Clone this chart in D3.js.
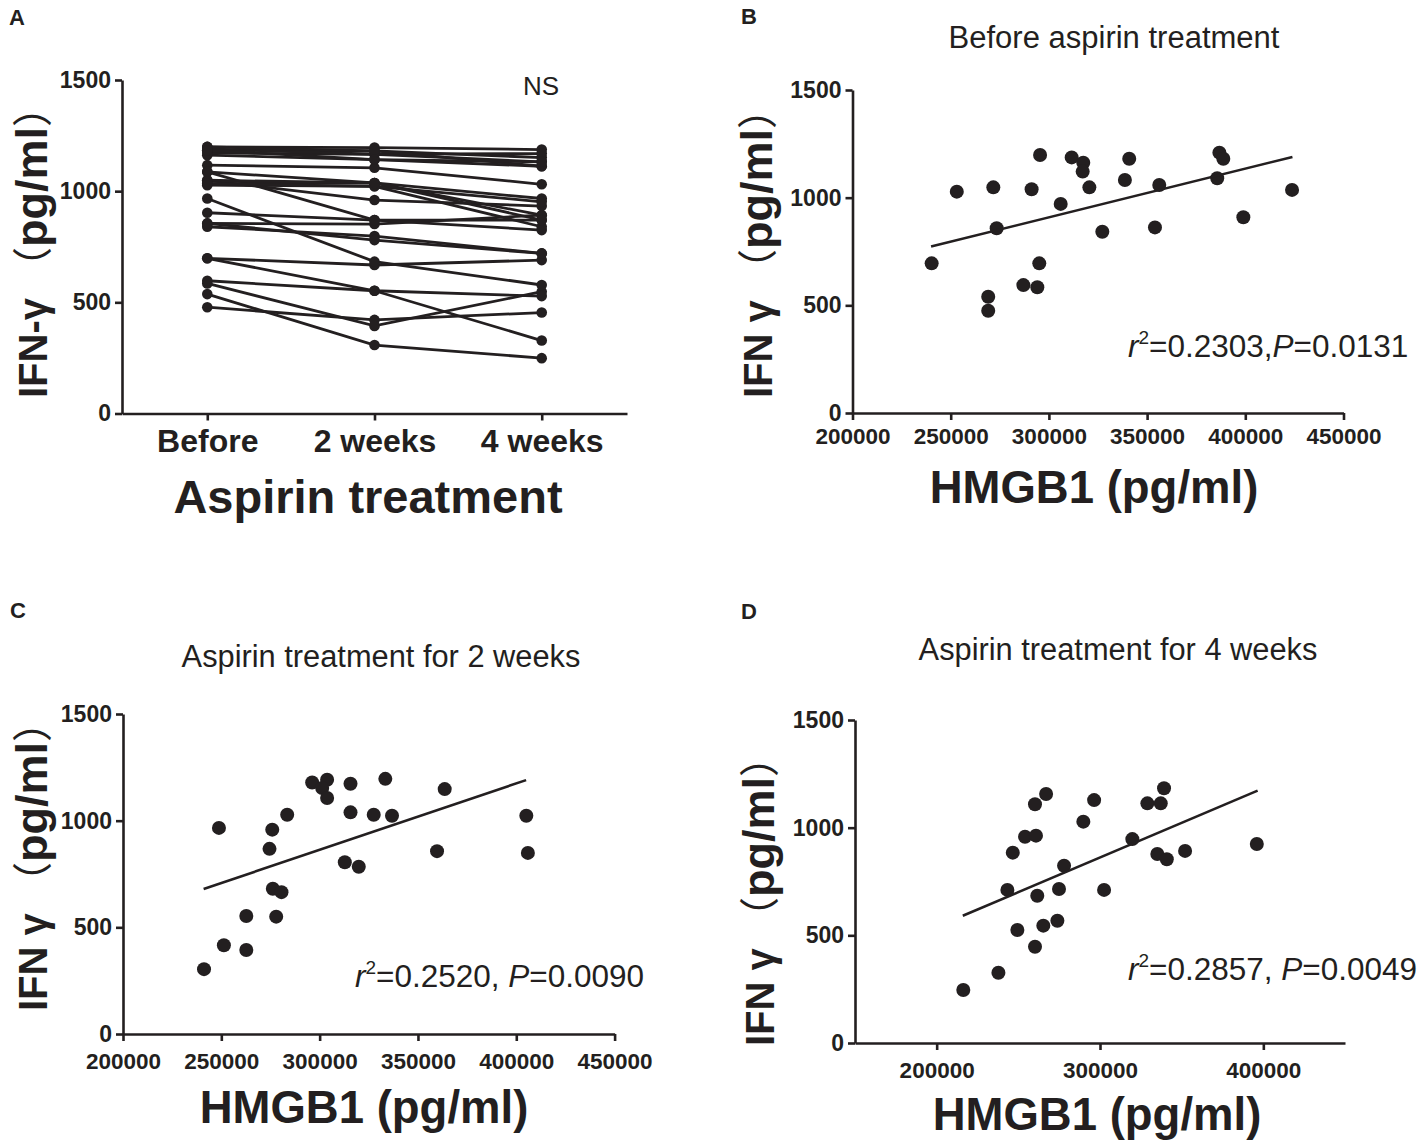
<!DOCTYPE html>
<html lang="en">
<head>
<meta charset="UTF-8">
<title>IFN-γ and HMGB1 during aspirin treatment</title>
<script src="https://d3js.org/d3.v7.min.js"></script>
<style>
  body { margin: 0; background: #fff; }
  svg { display: block; }
  .tick text { font-family: "Liberation Sans", Arial, sans-serif; font-weight: bold; fill: #231f20; }
  .domain, .tick line { stroke: #231f20; stroke-width: 2.6px; }
</style>
</head>
<body>
<div id="chart"></div>
<script>
// ---- data ----
var timepoints = ["Before", "2 weeks", "4 weeks"];
var ifnBefore = [478, 585, 537, 597, 698, 698, 967, 903, 855, 840, 855, 1087, 1049,
                 1034, 1027, 1049, 1034, 1117, 1162, 1172, 1184, 1199, 1190, 1199, 1087, 1184];
var ifnWeek2  = [421, 394, 308, 552, 552, 668, 683, 870, 852, 798, 780, 870, 960,
                 1037, 1022, 1037, 1022, 1105, 1142, 1166, 1181, 1196, 1166, 1181, 1037, 1142];
var ifnWeek4  = [454, 548, 249, 528, 328, 690, 578, 870, 892, 720, 720, 825, 933,
                 892, 840, 967, 952, 1031, 1112, 1132, 1151, 1187, 1169, 1112, 870, 1132];

var hmgbBefore = [253100, 271700, 295500, 291200, 311600, 317500, 317200, 320600, 306000,
                  273400, 240300, 269100, 269100, 287000, 294100, 295100, 327200, 338700,
                  340900, 354000, 356200, 386800, 388800, 385700, 399000, 423800];
var ifnB = [1028, 1048, 1198, 1039, 1187, 1162, 1121, 1048, 971, 858, 695, 540, 475,
            594, 584, 695, 842, 1082, 1181, 862, 1059, 1209, 1181, 1090, 909, 1036];

var hmgbWeek2 = [248800, 241200, 251300, 262700, 262700, 277900, 276200, 280600, 274500,
                 275900, 283500, 296200, 303800, 301300, 303800, 315700, 315700, 327500,
                 336800, 333400, 312800, 319900, 359700, 363600, 405100, 405900];
var ifnC = [966, 304, 416, 553, 394, 550, 681, 665, 868, 958, 1028, 1179, 1192, 1153,
            1106, 1173, 1039, 1028, 1023, 1196, 805, 784, 857, 1148, 1023, 849];

var hmgbWeek4 = [216300, 237800, 260200, 249400, 265300, 273900, 261600, 243300, 274900,
                 302500, 278000, 246600, 254100, 260800, 260200, 267000, 289800, 296400,
                 319800, 329000, 337200, 339200, 335100, 340900, 352100, 396000];
var ifnD = [246, 326, 447, 525, 545, 568, 684, 711, 715, 711, 823, 884, 958, 963, 1109,
            1156, 1028, 1128, 947, 1113, 1113, 1183, 878, 853, 892, 924];

// regression line end points
var fitBX = [240000, 424000], fitBY = [773, 1189];
var fitCX = [241000, 405000], fitCY = [680, 1190];
var fitDX = [216000, 396500], fitDY = [591, 1172];

var yTicks = [0, 500, 1000, 1500];
var xTicksWide = [200000, 250000, 300000, 350000, 400000, 450000];
var xTicksD = [200000, 300000, 400000];

var W = 1417, H = 1140;
var sans = '"Liberation Sans", Arial, sans-serif';
var cjk = '"Noto Sans CJK SC", sans-serif';
var ink = "#231f20";

var svg = d3.select("#chart").append("svg")
    .attr("width", W).attr("height", H);

function yAxis(g, y, labelPad) {
    g.call(d3.axisLeft(y).tickValues(yTicks).tickSize(7).tickPadding(labelPad)
        .tickSizeOuter(0).tickFormat(d3.format("d")));
    g.selectAll(".tick text").style("font-size", "23px");
}

function rotatedLabel(x, yBottom, main) {
    var t = svg.append("text")
        .attr("transform", "translate(" + x + "," + yBottom + ") rotate(-90)")
        .style("font-family", sans).style("font-size", "40px").style("font-weight", "bold")
        .style("fill", ink);
    t.append("tspan").text(main);
    t.append("tspan").style("font-family", cjk).style("font-weight", "normal").text("（");
    t.append("tspan").style("font-size", "45px").text("pg/ml");
    t.append("tspan").style("font-family", cjk).style("font-weight", "normal").text("）");
}

function panelLetter(x, y, s) {
    svg.append("text").attr("x", x).attr("y", y)
        .style("font-family", sans).style("font-size", "22px").style("font-weight", "bold")
        .style("fill", ink).text(s);
}

function plainText(x, y, size, s, anchor) {
    return svg.append("text").attr("x", x).attr("y", y)
        .attr("text-anchor", anchor || "middle")
        .style("font-family", sans).style("font-size", size + "px")
        .style("fill", ink).text(s);
}

function statText(x, y, r2, p, comma) {
    var t = svg.append("text").attr("x", x).attr("y", y)
        .style("font-family", sans).style("font-size", "31.5px").style("fill", ink);
    t.append("tspan").style("font-style", "italic").text("r");
    t.append("tspan").attr("dy", -13).style("font-size", "19px").text("2");
    t.append("tspan").attr("dy", 13).text("=" + r2 + comma);
    t.append("tspan").style("font-style", "italic").text("P");
    t.append("tspan").text("=" + p);
}

// ---- panel A: paired lines ----
(function() {
    var x = d3.scalePoint().domain(timepoints).range([122, 627]).padding(0.51);
    var y = d3.scaleLinear().domain([0, 1500]).range([413.5, 80]);

    var subjects = ifnBefore.map(function(v, i) {
        return [ifnBefore[i], ifnWeek2[i], ifnWeek4[i]];
    });
    var line = d3.line()
        .x(function(d, i) { return x(timepoints[i]); })
        .y(function(d) { return y(d); });

    var g = svg.append("g");
    g.selectAll("path.subj").data(subjects).enter().append("path")
        .attr("class", "subj")
        .attr("d", line)
        .attr("fill", "none").attr("stroke", ink).attr("stroke-width", 2.8);
    subjects.forEach(function(s) {
        g.selectAll(null).data(s).enter().append("circle")
            .attr("cx", function(d, i) { return x(timepoints[i]); })
            .attr("cy", function(d) { return y(d); })
            .attr("r", 5.3).attr("fill", ink);
    });

    svg.append("g").attr("transform", "translate(122,0)").call(yAxis, y, 4);
    var xa = svg.append("g").attr("transform", "translate(0,413.5)")
        .call(d3.axisBottom(x).tickSize(7).tickPadding(9).tickSizeOuter(0));
    xa.selectAll(".tick text").style("font-size", "32px");

    plainText(368, 513, 47, "Aspirin treatment").style("font-weight", "bold");
    plainText(541, 95, 26, "NS");
    rotatedLabel(47, 398, "IFN-γ ");
    panelLetter(9, 25, "A");
})();

// ---- scatter panels B, C, D ----
function scatter(cfg) {
    var x = d3.scaleLinear().domain(cfg.xDomain).range(cfg.xRange);
    var y = d3.scaleLinear().domain([0, 1500]).range(cfg.yRange);

    svg.append("g").selectAll("circle").data(cfg.xs).enter().append("circle")
        .attr("cx", function(d) { return x(d); })
        .attr("cy", function(d, i) { return y(cfg.ys[i]); })
        .attr("r", 7).attr("fill", ink);

    svg.append("line")
        .attr("x1", x(cfg.fitX[0])).attr("y1", y(cfg.fitY[0]))
        .attr("x2", x(cfg.fitX[1])).attr("y2", y(cfg.fitY[1]))
        .attr("stroke", ink).attr("stroke-width", 2.6);

    svg.append("g").attr("transform", "translate(" + cfg.xRange[0] + ",0)").call(yAxis, y, 4);
    var xa = svg.append("g").attr("transform", "translate(0," + cfg.yRange[0] + ")")
        .call(d3.axisBottom(x).tickValues(cfg.xTicks).tickSize(7)
            .tickPadding(cfg.xPad).tickSizeOuter(0).tickFormat(d3.format("d")));
    xa.selectAll(".tick text").style("font-size", "22.5px");
}

scatter({ xs: hmgbBefore, ys: ifnB, fitX: fitBX, fitY: fitBY,
          xDomain: [200000, 450000], xRange: [852.5, 1343.5], yRange: [413, 90],
          xTicks: xTicksWide, xPad: 8 });
plainText(1114, 48, 31, "Before aspirin treatment");
plainText(1094, 503, 45.5, "HMGB1 (pg/ml)").style("font-weight", "bold");
statText(1128, 357, "0.2303", "0.0131", ",");
rotatedLabel(772, 398, "IFN γ ");
panelLetter(741, 24, "B");

scatter({ xs: hmgbWeek2, ys: ifnC, fitX: fitCX, fitY: fitCY,
          xDomain: [200000, 450000], xRange: [123, 614.6], yRange: [1034, 714],
          xTicks: xTicksWide, xPad: 12 });
plainText(381, 667, 30.8, "Aspirin treatment for 2 weeks");
plainText(364, 1123, 45.5, "HMGB1 (pg/ml)").style("font-weight", "bold");
statText(355, 987, "0.2520", "0.0090", ", ");
rotatedLabel(47, 1011, "IFN γ ");
panelLetter(10, 618, "C");

scatter({ xs: hmgbWeek4, ys: ifnD, fitX: fitDX, fitY: fitDY,
          xDomain: [150000, 450000], xRange: [855, 1345], yRange: [1043, 720],
          xTicks: xTicksD, xPad: 12 });
plainText(1118, 660, 30.8, "Aspirin treatment for 4 weeks");
plainText(1097, 1130, 45.5, "HMGB1 (pg/ml)").style("font-weight", "bold");
statText(1128, 980, "0.2857", "0.0049", ", ");
rotatedLabel(774, 1046, "IFN γ ");
panelLetter(741, 619, "D");
</script>
</body>
</html>
